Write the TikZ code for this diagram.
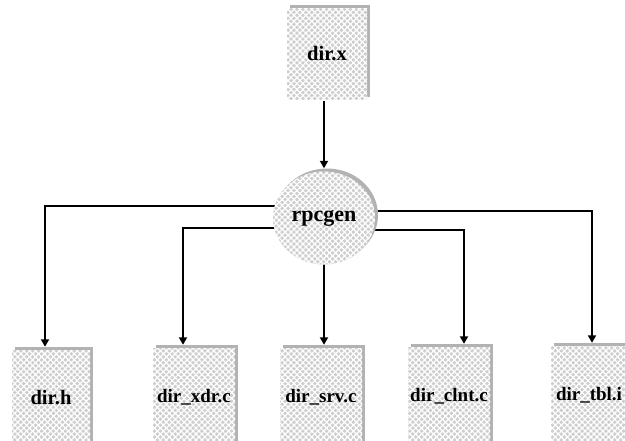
\documentclass[tikz,border=0pt]{standalone}
\usepackage{fontspec}
\setmainfont{Liberation Serif}
\usetikzlibrary{arrows.meta,patterns.meta,shapes.geometric,shadows,backgrounds}
\definecolor{boxgray}{RGB}{206,206,206}
\definecolor{shadowgray}{RGB}{178,178,178}
\tikzset{
  hatched/.style={
    preaction={fill=boxgray},
    pattern={Lines[angle=45,distance=4.2pt,line width=1.2pt]},pattern color=white,
    postaction={pattern={Lines[angle=-45,distance=4.2pt,line width=1.2pt]},pattern color=white}},
  shad/.style={general shadow={fill=shadowgray,shadow xshift=3pt,shadow yshift=3pt}},
  filebox/.style={rectangle,inner sep=0pt,draw=none,shad,hatched,
    font=\bfseries\fontsize{19}{21}\selectfont},
  tool/.style={ellipse,inner sep=0pt,draw=none,shad,hatched,
    minimum width=102pt,minimum height=93pt,font=\bfseries\fontsize{22}{24}\selectfont},
  conn/.style={line width=2.8pt,-{Triangle[length=7.5pt,width=8pt]}}
}
\begin{document}
\begin{tikzpicture}[x=1pt,y=-1pt]
\useasboundingbox (0,0) rectangle (625,440);
\clip (0,0) rectangle (625,440);
\node[filebox,minimum width=80pt,minimum height=92pt,font=\bfseries\fontsize{20.5}{22}\selectfont] (dirx) at (327,54) {dir.x};
\node[tool] (rpc) at (324,218) {rpcgen};
\node[filebox,minimum width=78pt,minimum height=96pt,font=\bfseries\fontsize{20.5}{22}\selectfont] (h) at (51,398) {dir.h};
\node[filebox,minimum width=82pt,minimum height=98pt] (xdr) at (194,397) {dir\_xdr.c};
\node[filebox,minimum width=82pt,minimum height=98pt] (srv) at (321,397) {dir\_srv.c};
\node[filebox,minimum width=82pt,minimum height=98pt] (clnt) at (449,396) {dir\_clnt.c};
\node[filebox,minimum width=76pt,minimum height=98pt] (tbl) at (589,395) {dir\_tbl.i};
\begin{scope}[on background layer]
\draw[conn] (dirx.south -| rpc.center) -- ([yshift=3pt]rpc.north);
\draw[conn] ([yshift=12pt]rpc.center) -| ([xshift=-6pt,yshift=3pt]h.north);
\draw[conn] ([yshift=-10pt]rpc.center) -| ([xshift=-11pt,yshift=3pt]xdr.north);
\draw[conn] (rpc.center) -- ([yshift=3pt]srv.north -| rpc.center);
\draw[conn] ([yshift=-12pt]rpc.center) -| ([xshift=15pt,yshift=3pt]clnt.north);
\draw[conn] ([yshift=7pt]rpc.center) -| ([xshift=3pt,yshift=3pt]tbl.north);
\end{scope}
\end{tikzpicture}
\end{document}
